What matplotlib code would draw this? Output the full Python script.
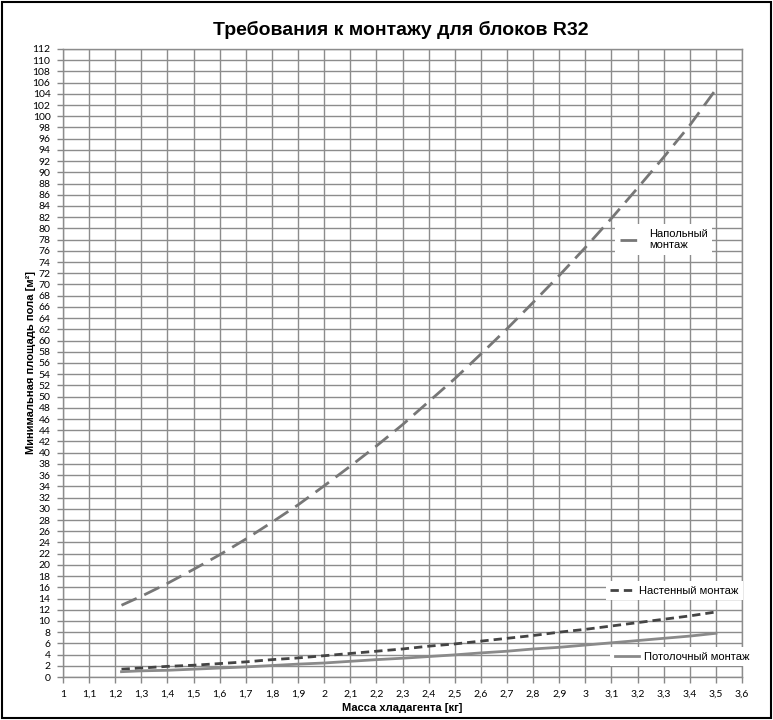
import matplotlib
matplotlib.use("Agg")
import matplotlib.pyplot as plt
from matplotlib.patches import Rectangle
import numpy as np

# масса хладагента, кг
mass = [1.224, 1.3, 1.4, 1.5, 1.6, 1.7, 1.8, 1.9, 2.0, 2.1, 2.2, 2.3,
        2.4, 2.5, 2.6, 2.7, 2.8, 2.9, 3.0, 3.1, 3.2, 3.3, 3.4, 3.5]
# минимальная площадь пола, м2
floor_area = [12.8, 14.4, 16.7, 19.2, 21.8, 24.6, 27.6, 30.7, 34.1, 37.6, 41.2, 45.0,
              49.1, 53.2, 57.6, 62.1, 66.8, 71.6, 76.6, 81.8, 87.2, 92.7, 98.4, 104.8]
wall_area = [1.4, 1.6, 1.9, 2.1, 2.4, 2.7, 3.1, 3.4, 3.8, 4.2, 4.6, 5.0,
             5.5, 5.9, 6.4, 6.9, 7.4, 8.0, 8.5, 9.1, 9.7, 10.3, 10.9, 11.6]
ceiling_area = [0.95, 1.1, 1.2, 1.4, 1.6, 1.8, 2.05, 2.3, 2.5, 2.8, 3.1, 3.35,
                3.65, 3.95, 4.3, 4.6, 5.0, 5.3, 5.7, 6.1, 6.5, 6.9, 7.3, 7.8]

x_ticks = np.round(np.arange(1.0, 3.61, 0.1), 1)
y_ticks = np.arange(0, 113, 2)

tick_font = 'Lato'
bold_font = ['Liberation Sans', 'DejaVu Sans']

fig = plt.figure(figsize=(7.73, 7.2), dpi=100)
ax = fig.add_axes([0.0815, 0.0597, 0.8785, 0.8723])

floor_line, = ax.plot(mass, floor_area, color='#777777', lw=2, dashes=(6, 3))
wall_line, = ax.plot(mass, wall_area, color='#444444', lw=2, dashes=(3, 1.8))
ceil_line, = ax.plot(mass, ceiling_area, color='#8a8a8a', lw=2)

ax.set_xlim(1.0, 3.6)
ax.set_ylim(0, 112)
ax.set_xticks(x_ticks)
ax.set_xticklabels([('%g' % v).replace('.', ',') for v in x_ticks],
                   fontsize=7.5, family=tick_font)
ax.set_yticks(y_ticks)
ax.set_yticklabels([str(v) for v in y_ticks], fontsize=7.5, family=tick_font)
ax.tick_params(direction='out', length=4, color='#888888', width=1, pad=5)
ax.grid(True, color='#8c8c8c', lw=1)
ax.set_axisbelow(True)
for s in ax.spines.values():
    s.set_color('#8c8c8c')
    s.set_linewidth(1)

ax.set_xlabel('Масса хладагента [кг]', fontsize=8, fontweight='bold',
              family=bold_font, labelpad=3)
ax.set_ylabel('Минимальная площадь пола [м²]', fontsize=8, fontweight='bold',
              family=bold_font, labelpad=-2.5)

fig.text(0.518, 0.958, 'Требования к монтажу для блоков R32', ha='center', va='center',
         fontsize=14, fontweight='bold', family=['Liberation Sans Narrow', 'Liberation Sans'])


def add_label(line, text, x, y):
    leg = ax.legend([line], [text], loc='center', bbox_to_anchor=(x, y),
                    bbox_transform=ax.transData, frameon=True, fancybox=False,
                    edgecolor='none', facecolor='white', framealpha=1,
                    handlelength=2.2, handletextpad=0.4, borderpad=0.4,
                    prop={'family': 'Liberation Sans', 'size': 8})
    ax.add_artist(leg)


add_label(floor_line, 'Напольный\nмонтаж', 3.30, 78)
add_label(wall_line, 'Настенный монтаж', 3.34, 15.4)
add_label(ceil_line, 'Потолочный монтаж', 3.37, 3.6)

fig.patches.append(Rectangle((0.003, 0.003), 0.994, 0.994, transform=fig.transFigure,
                             fill=False, edgecolor='black', lw=1.5))

fig.savefig('out.png', dpi=100)
